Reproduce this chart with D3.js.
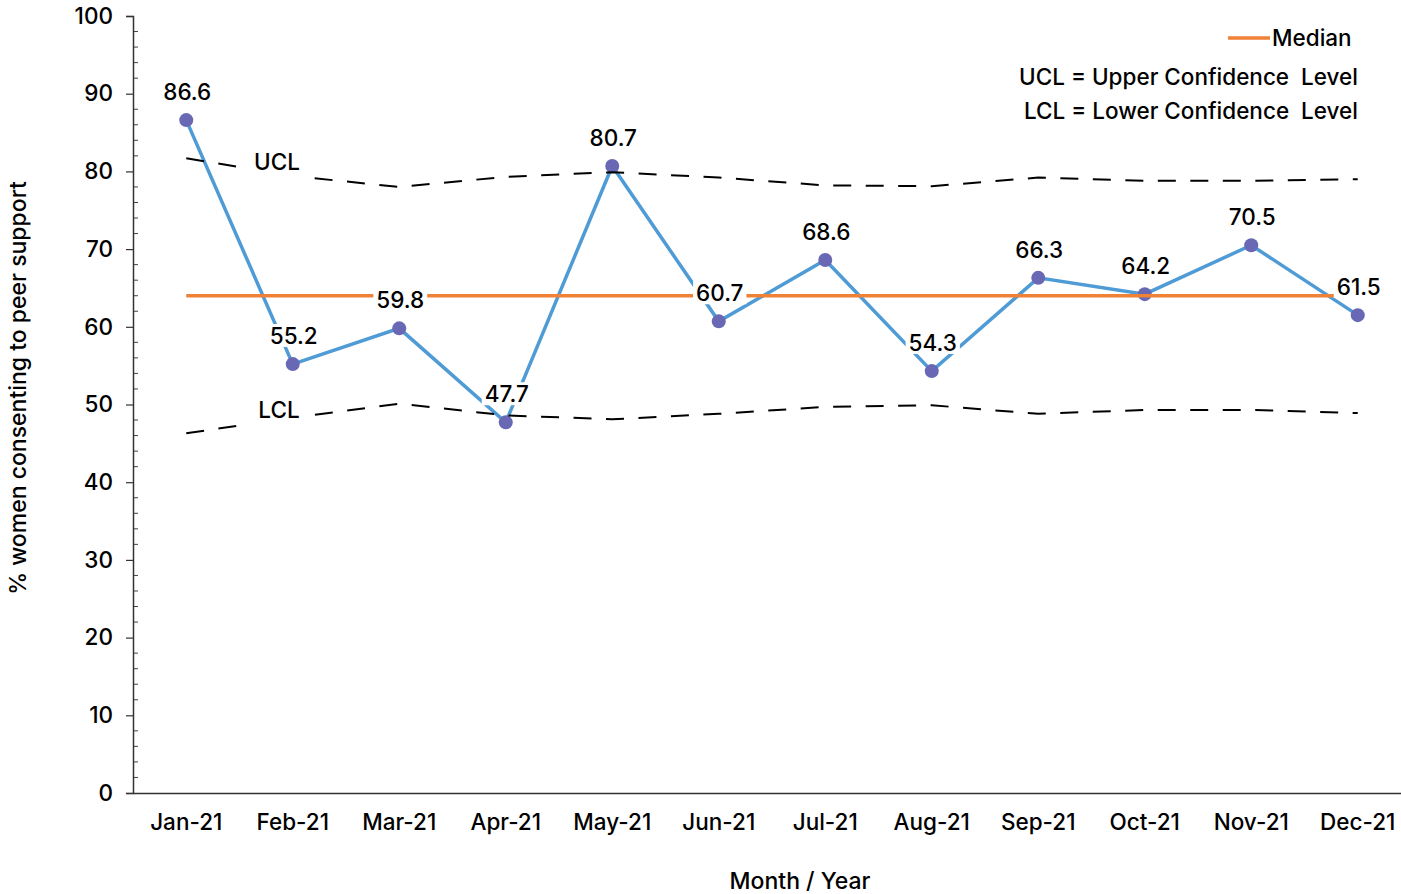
<!DOCTYPE html>
<html>
<head>
<meta charset="utf-8">
<script src="https://cdn.jsdelivr.net/npm/d3@7"></script>
<style>
  body { margin: 0; background: #fff; }
  text { font-family: Inter, Roboto, "Liberation Sans", Arial, sans-serif; font-weight: 500; fill: #000; }
</style>
</head>
<body>
<script>
//chart data
var months = ["Jan-21", "Feb-21", "Mar-21", "Apr-21", "May-21", "Jun-21",
              "Jul-21", "Aug-21", "Sep-21", "Oct-21", "Nov-21", "Dec-21"];
var values = [86.6, 55.2, 59.8, 47.7, 80.7, 60.7, 68.6, 54.3, 66.3, 64.2, 70.5, 61.5];
var ucl = [81.7, 79.4, 78.0, 79.3, 79.9, 79.2, 78.2, 78.1, 79.2, 78.8, 78.8, 79.0];
var lcl = [46.3, 48.3, 50.1, 48.6, 48.1, 48.8, 49.7, 49.9, 48.8, 49.3, 49.3, 48.9];
var median = 64.0;
var yTicks = [0, 10, 20, 30, 40, 50, 60, 70, 80, 90, 100];

var width = 1401, height = 894;
var plotLeft = 133, plotTop = 16, plotBottom = 793;
var fontSize = 22.5;

var svg = d3.select("body").append("svg")
    .attr("width", width)
    .attr("height", height);

var x = d3.scaleBand().domain(months).range([plotLeft, 1411]).padding(0);
var y = d3.scaleLinear().domain([0, 100]).range([plotBottom, plotTop]);
function cx(d){ return x(d) + x.bandwidth() / 2; }

//minor ticks every 2
var minor = d3.range(0, 101, 2).filter(function(v){ return v % 10 != 0; });
svg.append("g").selectAll("line").data(minor).enter().append("line")
    .attr("x1", plotLeft).attr("x2", plotLeft + 5)
    .attr("y1", function(d){ return y(d); }).attr("y2", function(d){ return y(d); })
    .style("stroke", "#444").style("stroke-width", 1);

//y axis
var yAxis = svg.append("g")
    .attr("transform", "translate(" + plotLeft + ",0)")
    .call(d3.axisLeft(y).tickValues(yTicks).tickSize(7).tickPadding(13));
yAxis.select(".domain").style("stroke", "#333").style("stroke-width", 1.5);
yAxis.selectAll(".tick line").style("stroke", "#333").style("stroke-width", 1.2);

//x axis
var xAxis = svg.append("g")
    .attr("transform", "translate(0," + plotBottom + ")")
    .call(d3.axisBottom(x).tickSize(0).tickPadding(21));
xAxis.select(".domain").style("stroke", "#333").style("stroke-width", 1.5);

svg.selectAll(".tick text")
    .style("font-size", fontSize + "px")
    .attr("fill", "#000");
yAxis.attr("font-family", null).attr("font-size", null);
xAxis.attr("font-family", null).attr("font-size", null);

//axis titles
svg.append("text")
    .attr("transform", "translate(26,388) rotate(-90)")
    .attr("text-anchor", "middle")
    .style("font-size", (fontSize + 0.5) + "px")
    .text("% women consenting to peer support");

svg.append("text")
    .attr("x", 800).attr("y", 889)
    .attr("text-anchor", "middle")
    .style("font-size", (fontSize + 0.5) + "px")
    .text("Month / Year");

//series line
var line = d3.line()
    .x(function(d, i){ return cx(months[i]); })
    .y(function(d){ return y(d); });

svg.append("path")
    .datum(values)
    .attr("d", line)
    .style("fill", "none")
    .style("stroke", "#4f9bd6")
    .style("stroke-width", 3.5);

svg.append("g").selectAll("circle").data(values).enter().append("circle")
    .attr("cx", function(d, i){ return cx(months[i]); })
    .attr("cy", function(d){ return y(d); })
    .attr("r", 7)
    .style("fill", "#6868b4");

//median
svg.append("line")
    .attr("x1", cx(months[0])).attr("x2", cx(months[months.length - 1]))
    .attr("y1", y(median)).attr("y2", y(median))
    .style("stroke", "#f08237").style("stroke-width", 3.5);

//control limits
[ucl, lcl].forEach(function(arr){
    svg.append("path")
        .datum(arr)
        .attr("d", line)
        .style("fill", "none")
        .style("stroke", "#000")
        .style("stroke-width", 2)
        .style("stroke-dasharray", "18,14.5");
});

function boxedLabel(xPos, yPos, txt, padX, padY){
    var g = svg.append("g");
    var bg = g.append("rect").style("fill", "#fff");
    var t = g.append("text")
        .attr("x", xPos).attr("y", yPos)
        .attr("text-anchor", "middle")
        .attr("dy", "0.35em")
        .style("font-size", fontSize + "px")
        .text(txt);
    var b = t.node().getBBox();
    bg.attr("x", b.x - padX).attr("y", b.y + 2 - padY)
      .attr("width", b.width + 2 * padX).attr("height", b.height - 4 + 2 * padY);
}

boxedLabel(277, 162, "UCL", 14, 6);
boxedLabel(279, 410, "LCL", 14, 6);

values.forEach(function(v, i){
    boxedLabel(cx(months[i]) + 1, y(v) - 28, v.toFixed(1), 3, 0);
});

//legend
svg.append("line")
    .attr("x1", 1228).attr("x2", 1270).attr("y1", 38).attr("y2", 38)
    .style("stroke", "#f08237").style("stroke-width", 3.5);
svg.append("text")
    .attr("x", 1272).attr("y", 38).attr("dy", "0.35em")
    .style("font-size", fontSize + "px")
    .text("Median");
svg.append("text")
    .attr("x", 1358).attr("y", 77).attr("dy", "0.35em")
    .attr("text-anchor", "end")
    .style("font-size", fontSize + "px").style("white-space", "pre")
    .text("UCL = Upper Confidence  Level");
svg.append("text")
    .attr("x", 1358).attr("y", 111).attr("dy", "0.35em")
    .attr("text-anchor", "end")
    .style("font-size", fontSize + "px").style("white-space", "pre")
    .text("LCL = Lower Confidence  Level");
</script>
</body>
</html>
